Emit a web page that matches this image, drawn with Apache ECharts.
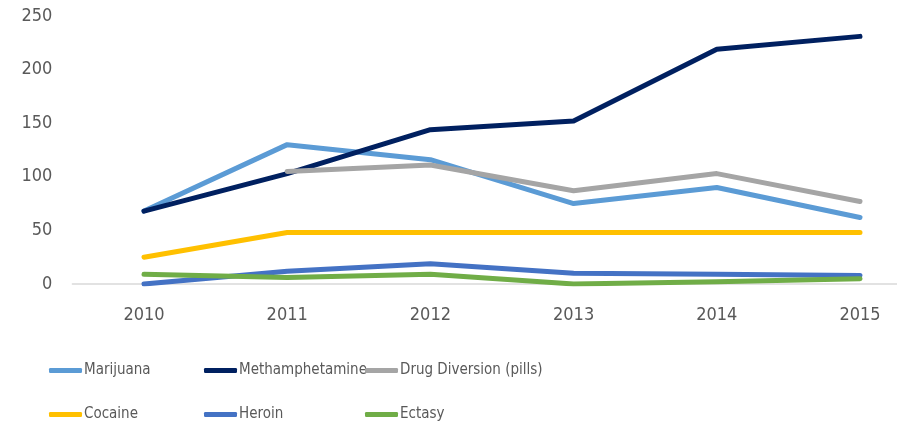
<!DOCTYPE html>
<html>
<head>
<meta charset="utf-8">
<script src="https://cdn.jsdelivr.net/npm/echarts@6/dist/echarts.min.js"></script>
<style>
  html, body { margin: 0; padding: 0; background: #fff; }
  #chart { width: 897px; height: 426px; }
</style>
</head>
<body>
<div id="chart"></div>
<script>
// 数据
var years = ['2010', '2011', '2012', '2013', '2014', '2015']
var yTicks = [0, 50, 100, 150, 200, 250]
var marijuana = [68, 130, 116, 75, 90, 62]
var meth = [68, 103, 144, 152, 219, 231]
var diversion = [null, 105, 111, 87, 103, 77]
var cocaine = [25, 48, 48, 48, 48, 48]
var heroin = [0, 12, 19, 10, 9, 8]
var ectasy = [9, 6, 9, 0, 2, 5]

var font = '"DejaVu Sans Condensed", Lato, sans-serif'
var textColor = '#595959'

function line(name, data, color) {
  return {
    name: name,
    type: 'line',
    data: data,
    symbol: 'none',
    lineStyle: { width: 5, color: color, cap: 'round', join: 'round' },
    itemStyle: { color: color }
  }
}

// 图例：每项单独定位，模拟三列两行
function legendItem(left, top, name) {
  return {
    left: left,
    top: top,
    padding: 0,
    orient: 'horizontal',
    itemWidth: 33,
    itemHeight: 5,
    icon: 'roundRect',
    data: [name],
    textStyle: { color: textColor, fontSize: 15, fontFamily: font, padding: [0, 0, 0, -3] }
  }
}

var myChart = echarts.init(document.getElementById('chart'))
var option = {
  animation: false,
  legend: [
    legendItem(49, 363, 'Marijuana'),
    legendItem(204, 363, 'Methamphetamine'),
    legendItem(365, 363, 'Drug Diversion (pills)'),
    legendItem(49, 407, 'Cocaine'),
    legendItem(204, 407, 'Heroin'),
    legendItem(365, 407, 'Ectasy')
  ],
  grid: { left: 72.4, width: 859.2, top: 16, height: 268, outerBoundsMode: 'none' },
  xAxis: {
    type: 'category',
    data: years,
    boundaryGap: true,
    axisLine: { lineStyle: { color: '#d9d9d9', width: 1.5 } },
    axisTick: { show: false },
    axisLabel: { color: textColor, fontSize: 18, fontFamily: font, margin: 22 }
  },
  yAxis: {
    type: 'value',
    min: yTicks[0],
    max: yTicks[yTicks.length - 1],
    interval: 50,
    splitLine: { show: false },
    axisLine: { show: false },
    axisTick: { show: false },
    axisLabel: { color: textColor, fontSize: 18, fontFamily: font, margin: 20 }
  },
  series: [
    line('Marijuana', marijuana, '#5b9bd5'),
    line('Methamphetamine', meth, '#002060'),
    line('Drug Diversion (pills)', diversion, '#a5a5a5'),
    line('Cocaine', cocaine, '#ffc000'),
    line('Heroin', heroin, '#4472c4'),
    line('Ectasy', ectasy, '#70ad47')
  ]
}
myChart.setOption(option)
</script>
</body>
</html>
